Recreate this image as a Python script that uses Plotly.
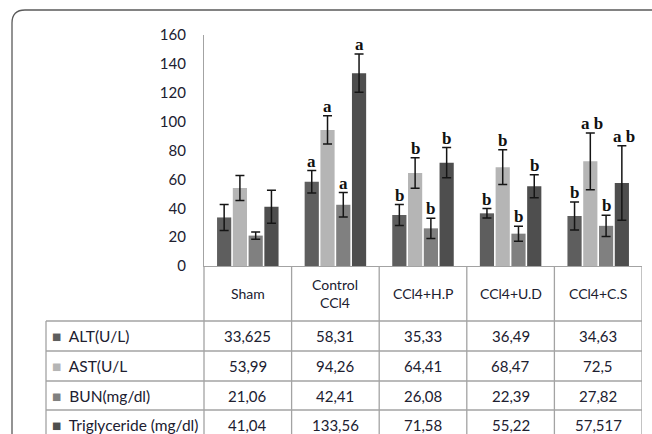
import plotly.graph_objects as go

# ---- data ----
groups = ["Sham", "Control<br>CCl4", "CCl4+H.P", "CCl4+U.D", "CCl4+C.S"]
series_names = ["ALT(U/L)", "AST(U/L", "BUN(mg/dl)", "Triglyceride (mg/dl)"]
alt = [33.625, 58.31, 35.33, 36.49, 34.63]
ast = [53.99, 94.26, 64.41, 68.47, 72.5]
bun = [21.06, 42.41, 26.08, 22.39, 27.82]
tg = [41.04, 133.56, 71.58, 55.22, 57.517]
alt_err = [9.0, 7.8, 7.2, 3.3, 9.7]
ast_err = [8.7, 9.8, 10.5, 12.0, 19.7]
bun_err = [2.5, 8.5, 7.0, 5.2, 7.4]
tg_err = [11.5, 13.2, 10.5, 8.0, 25.8]
alt_sig = ["", "a", "b", "b", "b"]
ast_sig = ["", "a", "b", "b", "a b"]
bun_sig = ["", "a", "b", "b", "b"]
tg_sig = ["", "a", "b", "b", "a b"]
y_ticks = [0, 20, 40, 60, 80, 100, 120, 140, 160]

values = [alt, ast, bun, tg]
errors = [alt_err, ast_err, bun_err, tg_err]
sigs = [alt_sig, ast_sig, bun_sig, tg_sig]
colors = ["#5e5e5e", "#b5b5b5", "#808080", "#4e4e4e"]

# ---- layout geometry (pixels) ----
W, H = 652, 434
L, R, T, B = 204, 10, 35, 168
PW, PH = W - L - R, H - T - B
BARGAP = 0.28
TEXT = "#202030"
GRID = "#a3a3a3"
FONT = "Lato"

def px_x(px):  # pixel -> paper x
    return (px - L) / PW

def px_y(py):  # pixel -> paper y
    return (H - B - py) / PH

xpos = list(range(len(groups)))
table_left = px_x(46)  # paper x of table left border

fig = go.Figure()
for name, v, e, c in zip(series_names, values, errors, colors):
    fig.add_trace(go.Bar(
        x=xpos, y=v, name=name, marker=dict(color=c, line=dict(width=0)),
        error_y=dict(type="data", array=e, visible=True, color="#151515",
                     thickness=1.5, width=4.5),
    ))

annotations = []
shapes = []

# significance letters
nser = len(values)
slot = (1 - BARGAP) / nser
for si, (v, e, s) in enumerate(zip(values, errors, sigs)):
    off = -(1 - BARGAP) / 2 + slot * (si + 0.5)
    for gi in range(len(groups)):
        if s[gi]:
            annotations.append(dict(
                x=gi + off, y=v[gi] + e[gi], xref="x", yref="y", text=s[gi],
                showarrow=False, xanchor="center", yanchor="bottom", yshift=-2,
                font=dict(family="Liberation Serif", size=17, color="#111", weight="bold"),
                xshift=2 if " " in s[gi] else 0,
            ))

# table header
header_top, header_bot = 266, 321
row_lines = [321, 351, 381, 410, 440]
for gi, g in enumerate(groups):
    annotations.append(dict(
        x=gi, y=px_y((header_top + header_bot) / 2), xref="x", yref="paper",
        xanchor="center", yanchor="middle",
        text=g, showarrow=False, font=dict(family=FONT, size=14, color=TEXT),
    ))

# table rows
for ri, (name, v, c) in enumerate(zip(series_names, values, colors)):
    yc = px_y((row_lines[ri] + row_lines[ri + 1]) / 2)
    annotations.append(dict(
        x=table_left, y=yc, xref="paper", yref="paper", xanchor="left", yanchor="middle",
        xshift=4,
        text=f"<span style='color:{c}'>■</span>&nbsp; {name}", showarrow=False,
        font=dict(family=FONT, size=15.5, color=TEXT),
    ))
    for gi in range(len(groups)):
        annotations.append(dict(
            x=gi, y=yc, xref="x", yref="paper", xanchor="center", yanchor="middle",
            text=str(v[gi]).replace(".", ","), showarrow=False,
            font=dict(family=FONT, size=15, color=TEXT),
        ))

# table lines
bottom = px_y(row_lines[-1] + 20)
for gi in range(len(groups)):
    shapes.append(dict(type="line", xref="x", yref="paper", x0=gi + 0.5, x1=gi + 0.5,
                       y0=0, y1=bottom, line=dict(color=GRID, width=1.3)))
shapes.append(dict(type="line", xref="paper", yref="paper", x0=0, x1=0,
                   y0=0, y1=bottom, line=dict(color=GRID, width=1.3)))
shapes.append(dict(type="line", xref="paper", yref="paper", x0=table_left, x1=table_left,
                   y0=px_y(header_bot), y1=bottom, line=dict(color=GRID, width=1.3)))
for ry in row_lines[:-1]:
    shapes.append(dict(type="line", xref="paper", yref="paper", x0=table_left, x1=1,
                       y0=px_y(ry), y1=px_y(ry), line=dict(color=GRID, width=1.3)))

# rounded outer frame
r = 13
fx0, fy0 = 12, 10
path = (f"M {px_x(fx0)},{px_y(470)} L {px_x(fx0)},{px_y(fy0 + r)} "
        f"Q {px_x(fx0)},{px_y(fy0)} {px_x(fx0 + r)},{px_y(fy0)} L {px_x(670)},{px_y(fy0)}")
shapes.append(dict(type="path", xref="paper", yref="paper", path=path,
                   line=dict(color="#5a5a5a", width=1.3)))

fig.update_layout(
    width=W, height=H, margin=dict(l=L, r=R, t=T, b=B, pad=0),
    paper_bgcolor="white", plot_bgcolor="white",
    barmode="group", bargap=BARGAP, bargroupgap=0.1,
    showlegend=False, annotations=annotations, shapes=shapes,
    xaxis=dict(range=[-0.5, len(groups) - 0.5], showticklabels=False, showgrid=False,
               zeroline=False, showline=True, linecolor=GRID, linewidth=1.3, ticks=""),
    yaxis=dict(range=[0, 160], tickvals=y_ticks, showgrid=False, zeroline=False,
               showline=True, linecolor=GRID, linewidth=1.3, ticks="",
               ticklabelstandoff=14,
               tickfont=dict(family=FONT, size=15, color=TEXT)),
)

fig.write_html("out.html", config={"displayModeBar": False},
               post_script="document.body.style.margin='0';")
